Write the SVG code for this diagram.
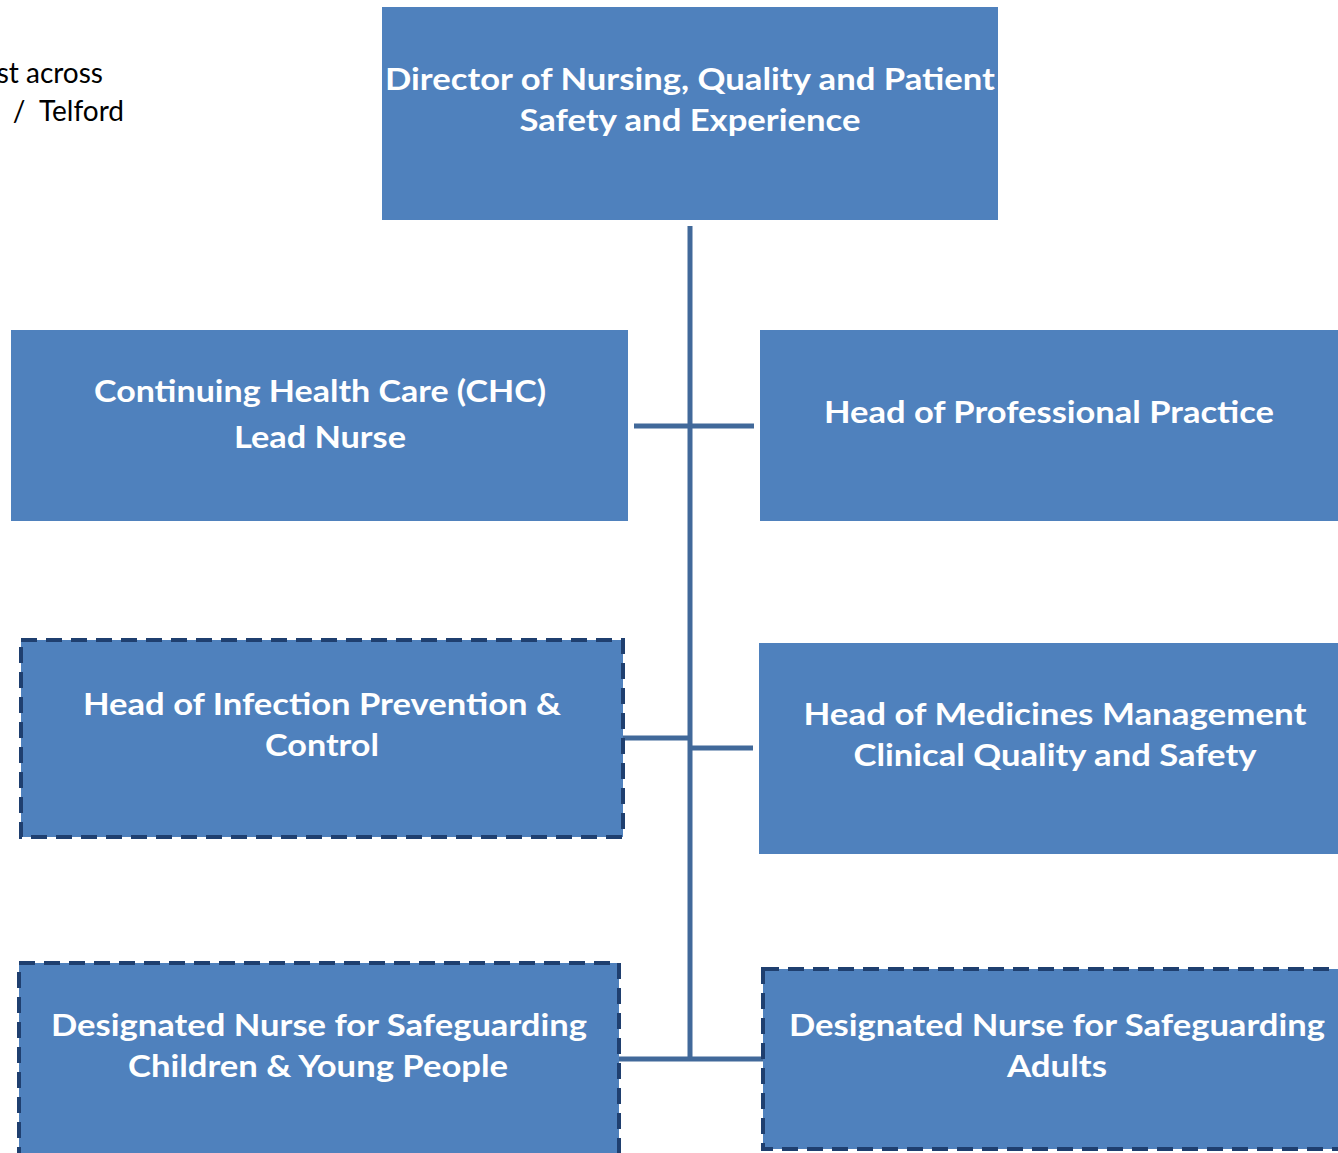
<svg xmlns="http://www.w3.org/2000/svg" width="1338" height="1153" viewBox="0 0 1338 1153">
<style>
.box{fill:#4f81bd}
.dash{fill:#4f81bd;stroke:#1f3f6f;stroke-width:4;stroke-dasharray:16 9}
.t{font-family:Lato,"Open Sans","Liberation Sans",sans-serif;font-weight:bold;font-size:31px;fill:#fff;text-anchor:middle}
.n{font-family:Lato,"Open Sans","Liberation Sans",sans-serif;font-size:28px;fill:#000;text-anchor:end}
.c{stroke:#41699a;stroke-width:5;fill:none}
</style>
<rect width="1338" height="1153" fill="#fff"/>
<g id="note">
<text class="n" x="103" y="83">st across</text>
<text class="n" x="124" y="121" xml:space="preserve">/  Telford</text>
</g>
<g id="connectors">
<line class="c" x1="690" y1="226" x2="690" y2="1061"/>
<line class="c" x1="634" y1="426" x2="754" y2="426"/>
<line class="c" x1="623" y1="738" x2="690" y2="738"/>
<line class="c" x1="690" y1="748" x2="753" y2="748"/>
<line class="c" x1="619" y1="1059" x2="763" y2="1059"/>
</g>
<g id="director">
<rect class="box" x="382" y="7" width="616" height="213"/>
<text class="t" x="690" y="90" textLength="610" lengthAdjust="spacingAndGlyphs">Director of Nursing, Quality and Patient</text>
<text class="t" x="690" y="131" textLength="341" lengthAdjust="spacingAndGlyphs">Safety and Experience</text>
</g>
<g id="chc">
<rect class="box" x="11" y="330" width="617" height="191"/>
<text class="t" x="320" y="402" textLength="452" lengthAdjust="spacingAndGlyphs">Continuing Health Care (CHC)</text>
<text class="t" x="320" y="448" textLength="172" lengthAdjust="spacingAndGlyphs">Lead Nurse</text>
</g>
<g id="hpp">
<rect class="box" x="760" y="330" width="578" height="191"/>
<text class="t" x="1049" y="423" textLength="450" lengthAdjust="spacingAndGlyphs">Head of Professional Practice</text>
</g>
<g id="ipc">
<rect class="dash" x="21" y="640" width="602" height="197"/>
<text class="t" x="322" y="715" textLength="478" lengthAdjust="spacingAndGlyphs">Head of Infection Prevention &amp;</text>
<text class="t" x="322" y="756" textLength="114" lengthAdjust="spacingAndGlyphs">Control</text>
</g>
<g id="hmm">
<rect class="box" x="759" y="643" width="579" height="211"/>
<text class="t" x="1055" y="725" textLength="503" lengthAdjust="spacingAndGlyphs">Head of Medicines Management</text>
<text class="t" x="1055" y="766" textLength="403" lengthAdjust="spacingAndGlyphs">Clinical Quality and Safety</text>
</g>
<g id="dnsc">
<rect class="dash" x="19" y="963" width="600" height="200"/>
<text class="t" x="319" y="1036" textLength="536" lengthAdjust="spacingAndGlyphs">Designated Nurse for Safeguarding</text>
<text class="t" x="318" y="1077" textLength="380" lengthAdjust="spacingAndGlyphs">Children &amp; Young People</text>
</g>
<g id="dnsa">
<rect class="dash" x="763" y="969" width="590" height="180"/>
<text class="t" x="1057" y="1036" textLength="536" lengthAdjust="spacingAndGlyphs">Designated Nurse for Safeguarding</text>
<text class="t" x="1057" y="1077" textLength="100" lengthAdjust="spacingAndGlyphs">Adults</text>
</g>
</svg>
